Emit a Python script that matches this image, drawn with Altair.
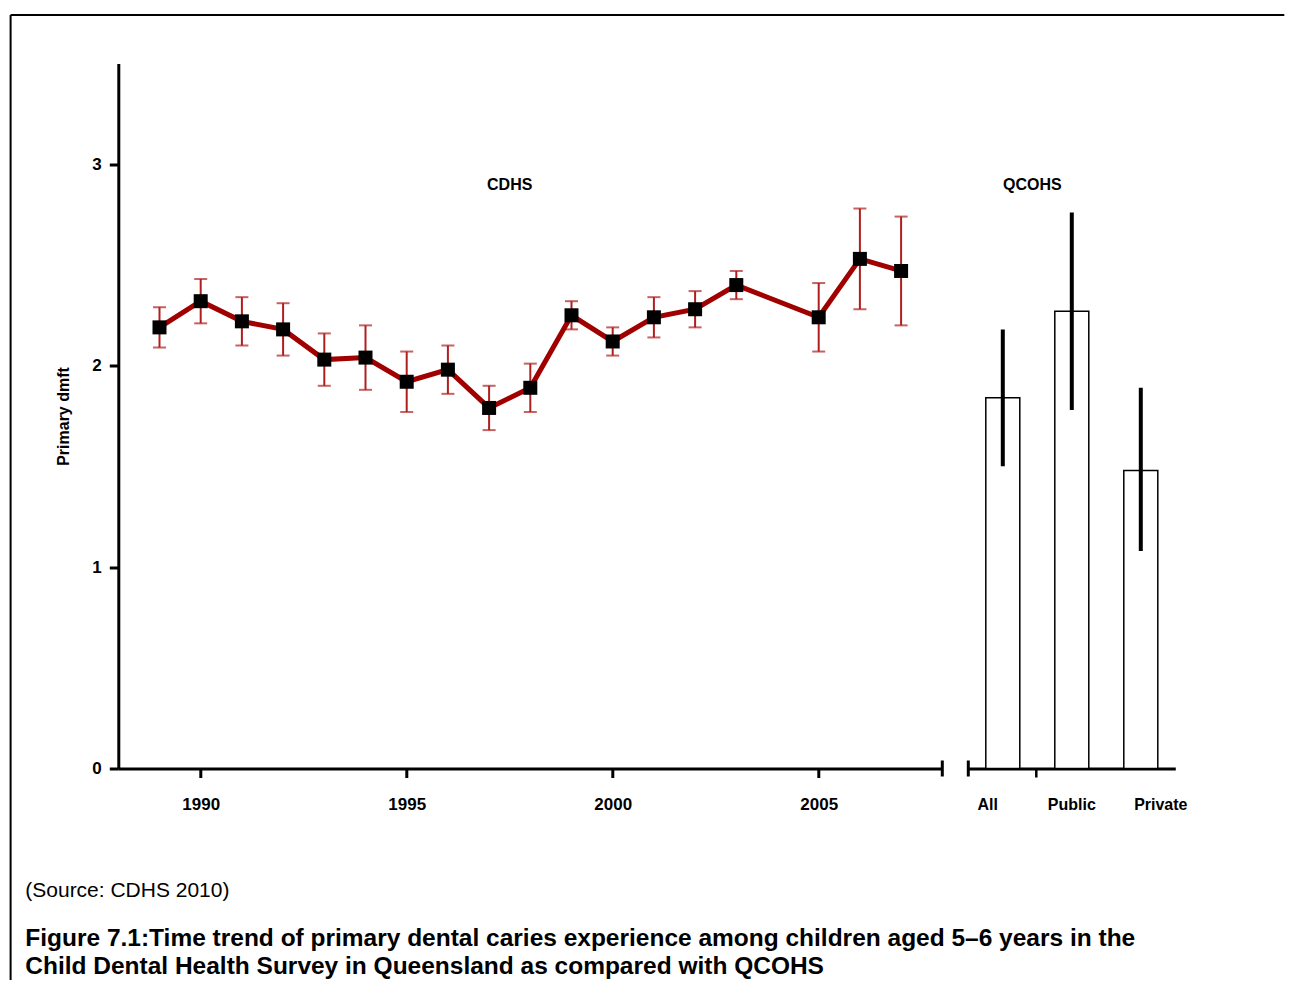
import altair as alt
import pandas as pd

# ---------------- data ----------------
years = [1989, 1990, 1991, 1992, 1993, 1994, 1995, 1996, 1997, 1998,
         1999, 2000, 2001, 2002, 2003, 2005, 2006, 2007]
cdhs_mean = [2.19, 2.32, 2.22, 2.18, 2.03, 2.04, 1.92, 1.98, 1.79, 1.89,
             2.25, 2.12, 2.24, 2.28, 2.40, 2.24, 2.53, 2.47]
cdhs_low = [2.09, 2.21, 2.10, 2.05, 1.90, 1.88, 1.77, 1.86, 1.68, 1.77,
            2.18, 2.05, 2.14, 2.19, 2.33, 2.07, 2.28, 2.20]
cdhs_high = [2.29, 2.43, 2.34, 2.31, 2.16, 2.20, 2.07, 2.10, 1.90, 2.01,
             2.32, 2.19, 2.34, 2.37, 2.47, 2.41, 2.78, 2.74]

qcohs_groups = ["All", "Public", "Private"]
qcohs_mean = [1.84, 2.27, 1.48]
qcohs_low = [1.50, 1.78, 1.08]
qcohs_high = [2.18, 2.76, 1.89]

year_ticks = [1990, 1995, 2000, 2005]
y_ticks = [0, 1, 2, 3]
y_title = "Primary dmft"
cdhs_label = "CDHS"
qcohs_label = "QCOHS"
source_text = "(Source: CDHS 2010)"
caption_lines = [
    "Figure 7.1:Time trend of primary dental caries experience among children aged 5\u20136 years in the",
    "Child Dental Health Survey in Queensland as compared with QCOHS",
]

# ---------------- styling ----------------
FONT = "Arial, Liberation Sans, sans-serif"
LINE_RED = "#A00000"
ERR_RED = "#B01E1E"
W_LEFT, W_RIGHT, H = 824, 207, 705
CAP_SIZE = 24.5

left_df = pd.DataFrame({"year": years, "mean": cdhs_mean,
                        "low": cdhs_low, "high": cdhs_high})
right_df = pd.DataFrame({"group": qcohs_groups, "mean": qcohs_mean,
                         "low": qcohs_low, "high": qcohs_high})
one = pd.DataFrame({"k": [0]})

xs = alt.Scale(domain=[1988, 2008], nice=False, zero=False)
ys = alt.Scale(domain=[0, 3.5], nice=False)

x_axis = alt.Axis(values=year_ticks, format="d", title=None, grid=False,
                  labelFontSize=17, labelFontWeight="bold", labelPadding=19,
                  tickSize=9, tickWidth=3, domainWidth=3, labelFlush=False)
y_axis = alt.Axis(values=y_ticks, title=y_title, grid=False,
                  labelFontSize=17, labelFontWeight="bold", labelPadding=8,
                  tickSize=9, tickWidth=3, domainWidth=3,
                  titleFontSize=16, titleFontWeight="bold", titlePadding=20)

def X(f):
    return alt.X(f, type="quantitative", scale=xs, axis=x_axis)

def Y(f):
    return alt.Y(f, type="quantitative", scale=ys, axis=y_axis)

base = alt.Chart(left_df)
err = base.mark_rule(color=ERR_RED, strokeWidth=2).encode(
    x=X("year"), y=Y("low"), y2="high")
cap_lo = base.mark_tick(orient="horizontal", size=13, thickness=2,
                        color=ERR_RED).encode(x=X("year"), y=Y("low"))
cap_hi = base.mark_tick(orient="horizontal", size=13, thickness=2,
                        color=ERR_RED).encode(x=X("year"), y=Y("high"))
line = base.mark_line(color=LINE_RED, strokeWidth=5).encode(
    x=X("year"), y=Y("mean"))
pts = base.mark_square(size=196, color="black", opacity=1).encode(
    x=X("year"), y=Y("mean"))

deco = alt.Chart(one)
end_cap = deco.mark_rule(color="black", strokeWidth=3).encode(
    x=alt.XDatum(2008, scale=xs, axis=x_axis),
    y=alt.value(H - 8), y2=alt.value(H + 8))
cdhs_txt = deco.mark_text(text=cdhs_label, font=FONT, fontSize=16,
                          fontWeight="bold", baseline="alphabetic",
                          color="black").encode(
    x=alt.XDatum(1997.5, scale=xs, axis=x_axis),
    y=alt.YDatum(2.87, scale=ys, axis=y_axis))
# figure frame (top and left edges; the rest is outside the window)
frame_top = deco.mark_rule(color="black", strokeWidth=2).encode(
    x=alt.value(-107.7), x2=alt.value(1166), y=alt.value(-48.5))
frame_left = deco.mark_rule(color="black", strokeWidth=2).encode(
    x=alt.value(-107.7), y=alt.value(-48.5), y2=alt.value(940))
src = deco.mark_text(text=source_text, font=FONT, fontSize=21, align="left",
                     baseline="alphabetic", color="black").encode(
    x=alt.value(-93), y=alt.value(834))
cap1 = deco.mark_text(text=caption_lines[0], font=FONT, fontSize=CAP_SIZE,
                      fontWeight="bold", align="left", baseline="alphabetic",
                      color="black").encode(x=alt.value(-93), y=alt.value(883))
cap2 = deco.mark_text(text=caption_lines[1], font=FONT, fontSize=CAP_SIZE,
                      fontWeight="bold", align="left", baseline="alphabetic",
                      color="black").encode(x=alt.value(-93), y=alt.value(910.5))

left = alt.layer(err, cap_lo, cap_hi, line, pts, end_cap, cdhs_txt,
                 frame_top, frame_left, src, cap1, cap2).properties(
    width=W_LEFT, height=H)

# ---------------- right panel ----------------
xb_axis = alt.Axis(
    title=None, labelAngle=0, labelFontSize=16, labelFontWeight="bold",
    labelPadding=19, tickSize=9, tickOpacity=0, domainWidth=3,
    labelOffset={"condition": [
        {"test": "datum.value === 'All'", "value": -15},
        {"test": "datum.value === 'Private'", "value": 20}],
        "value": 0})
xb_scale = alt.Scale(paddingInner=0, paddingOuter=0)

def XB():
    return alt.X("group:N", sort=qcohs_groups, scale=xb_scale, axis=xb_axis)

rbase = alt.Chart(right_df)
bars = rbase.mark_bar(width=34, fill="white", stroke="black",
                      strokeWidth=1.5).encode(
    x=XB(), y=alt.Y("mean:Q", scale=ys, axis=None))
rerr = rbase.mark_rule(color="black", strokeWidth=4).encode(
    x=XB(), y=alt.Y("low:Q", scale=ys, axis=None), y2="high:Q")
rdeco = alt.Chart(one)
r_cap = rdeco.mark_rule(color="black", strokeWidth=3).encode(
    x=alt.value(0), y=alt.value(H - 8), y2=alt.value(H + 8))
r_tick = rdeco.mark_rule(color="black", strokeWidth=2.5).encode(
    x=alt.value(68), y=alt.value(H), y2=alt.value(H + 9))
q_txt = rdeco.mark_text(text=qcohs_label, font=FONT, fontSize=16,
                        fontWeight="bold", baseline="alphabetic",
                        color="black").encode(
    x=alt.value(64), y=alt.YDatum(2.87, scale=ys, axis=None))

right = alt.layer(bars, rerr, r_cap, r_tick, q_txt).properties(
    width=W_RIGHT, height=H)

# negative bottom padding crops the figure at the window's lower edge,
# as in the reference, so the page itself never needs to scroll
chart = alt.hconcat(left, right, spacing=26, bounds="flush").properties(
    padding={"left": 1.3, "top": 5.5, "right": 0, "bottom": -24.5}
).configure_view(stroke=None).configure_axis(
    labelFont=FONT, titleFont=FONT, labelColor="black", titleColor="black",
    domainColor="black", tickColor="black")

chart.save("out.html", embed_options={"renderer": "svg", "actions": False})
